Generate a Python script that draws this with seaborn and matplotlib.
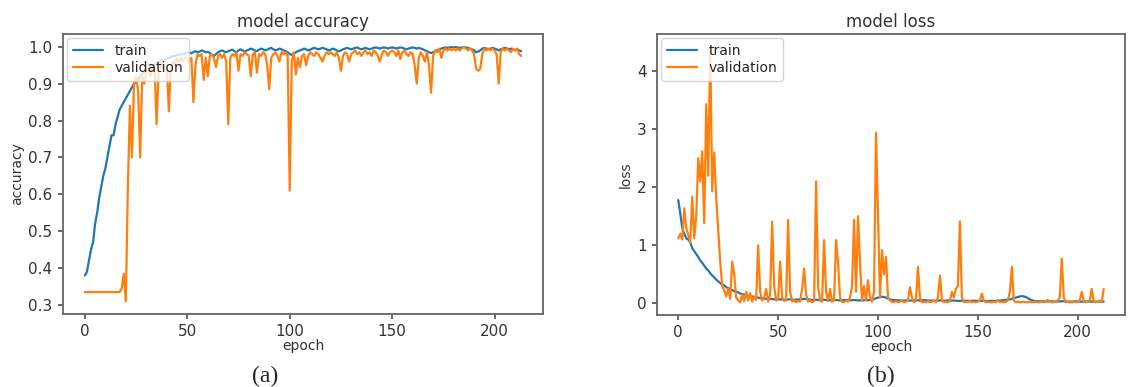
import numpy as np
import pandas as pd
import seaborn as sns
import matplotlib.pyplot as plt

# values (214 epochs)
acc_train = [
    0.38, 0.39, 0.42, 0.45, 0.47, 0.52, 0.55, 0.59, 0.62, 0.65,
    0.67, 0.70, 0.73, 0.76, 0.76, 0.79, 0.81, 0.83, 0.84, 0.85,
    0.86, 0.87, 0.88, 0.89, 0.90, 0.905, 0.91, 0.92, 0.925, 0.93,
    0.935, 0.94, 0.945, 0.95, 0.95, 0.955, 0.96, 0.96, 0.965, 0.965,
    0.97, 0.97, 0.972, 0.975, 0.975, 0.978, 0.978, 0.98, 0.98, 0.982,
    0.983, 0.985, 0.982, 0.986, 0.988, 0.985, 0.987, 0.99, 0.988, 0.985,
    0.986, 0.983, 0.978, 0.975, 0.98, 0.985, 0.988, 0.99, 0.987, 0.985,
    0.988, 0.99, 0.992, 0.988, 0.985, 0.99, 0.993, 0.99, 0.987, 0.99,
    0.992, 0.995, 0.993, 0.99, 0.988, 0.992, 0.995, 0.993, 0.99, 0.992,
    0.995, 0.997, 0.993, 0.99, 0.992, 0.995, 0.993, 0.99, 0.988, 0.985,
    0.98, 0.978, 0.982, 0.985, 0.988, 0.99, 0.992, 0.995, 0.993, 0.99,
    0.992, 0.995, 0.997, 0.995, 0.993, 0.995, 0.997, 0.995, 0.993, 0.99,
    0.992, 0.995, 0.993, 0.99, 0.988, 0.99, 0.993, 0.995, 0.997, 0.995,
    0.993, 0.995, 0.997, 0.998, 0.995, 0.993, 0.995, 0.997, 0.995, 0.993,
    0.995, 0.997, 0.998, 0.997, 0.995, 0.997, 0.998, 0.997, 0.995, 0.997,
    0.998, 0.997, 0.995, 0.997, 0.998, 0.997, 0.995, 0.993, 0.995, 0.997,
    0.998, 0.997, 0.995, 0.997, 0.995, 0.993, 0.99, 0.988, 0.985, 0.983,
    0.985, 0.988, 0.99, 0.993, 0.995, 0.997, 0.998, 0.997, 0.998, 0.999,
    0.998, 0.999, 0.998, 0.997, 0.998, 0.999, 0.998, 0.997, 0.995, 0.993,
    0.99, 0.985, 0.987, 0.99, 0.995, 0.997, 0.995, 0.993, 0.995, 0.997,
    0.995, 0.993, 0.99, 0.993, 0.995, 0.997, 0.995, 0.993, 0.995, 0.993,
    0.99, 0.993, 0.99, 0.988,
]

acc_val = [
    0.335, 0.335, 0.335, 0.335, 0.335, 0.335, 0.335, 0.335, 0.335, 0.335,
    0.335, 0.335, 0.335, 0.335, 0.335, 0.335, 0.335, 0.335, 0.345, 0.385,
    0.31, 0.62, 0.84, 0.70, 0.90, 0.92, 0.88, 0.70, 0.92, 0.90,
    0.93, 0.95, 0.92, 0.94, 0.95, 0.79, 0.93, 0.95, 0.96, 0.94,
    0.95, 0.825, 0.95, 0.96, 0.95, 0.97, 0.96, 0.97, 0.96, 0.97,
    0.97, 0.96, 0.97, 0.85, 0.95, 0.98, 0.975, 0.98, 0.91, 0.97,
    0.92, 0.975, 0.98, 0.97, 0.945, 0.975, 0.98, 0.97, 0.98, 0.96,
    0.79, 0.97, 0.98, 0.975, 0.985, 0.935, 0.98, 0.975, 0.985, 0.98,
    0.975, 0.92, 0.98, 0.985, 0.93, 0.98, 0.975, 0.985, 0.98, 0.95,
    0.885, 0.97, 0.98, 0.985, 0.975, 0.96, 0.985, 0.98, 0.985, 0.975,
    0.61, 0.96, 0.985, 0.925, 0.97, 0.945, 0.975, 0.98, 0.95, 0.975,
    0.985, 0.98, 0.975, 0.985, 0.98, 0.97, 0.96, 0.975, 0.985, 0.98,
    0.985, 0.98, 0.975, 0.985, 0.97, 0.935, 0.975, 0.985, 0.98, 0.96,
    0.98, 0.985, 0.99, 0.98, 0.985, 0.975, 0.985, 0.99, 0.98, 0.985,
    0.975, 0.99, 0.985, 0.975, 0.96, 0.98, 0.99, 0.985, 0.975, 0.985,
    0.99, 0.985, 0.975, 0.99, 0.967, 0.985, 0.99, 0.98, 0.975, 0.985,
    0.98, 0.95, 0.90, 0.97, 0.985, 0.975, 0.96, 0.985, 0.95, 0.875,
    0.975, 0.99, 0.985, 0.995, 0.97, 0.99, 0.995, 0.99, 0.995, 0.99,
    0.995, 0.99, 0.995, 0.99, 0.995, 1.0, 0.995, 0.99, 0.995, 0.99,
    0.98, 0.94, 0.935, 0.94, 0.98, 0.995, 0.99, 0.995, 0.99, 0.995,
    0.99, 0.98, 0.90, 0.985, 0.995, 0.99, 0.995, 0.99, 0.985, 0.995,
    0.99, 0.995, 0.98, 0.975,
]

loss_train = [
    1.78, 1.55, 1.30, 1.20, 1.12, 1.10, 1.05, 0.95, 0.90, 0.85,
    0.80, 0.74, 0.70, 0.65, 0.60, 0.57, 0.52, 0.48, 0.45, 0.41,
    0.38, 0.35, 0.32, 0.31, 0.28, 0.26, 0.25, 0.23, 0.21, 0.20,
    0.19, 0.17, 0.16, 0.15, 0.14, 0.13, 0.12, 0.12, 0.11, 0.10,
    0.10, 0.09, 0.09, 0.08, 0.08, 0.08, 0.075, 0.075, 0.07, 0.07,
    0.07, 0.068, 0.07, 0.065, 0.065, 0.068, 0.07, 0.065, 0.06, 0.065,
    0.068, 0.07, 0.075, 0.08, 0.075, 0.07, 0.065, 0.06, 0.062, 0.065,
    0.06, 0.058, 0.06, 0.062, 0.06, 0.058, 0.055, 0.058, 0.06, 0.058,
    0.055, 0.053, 0.055, 0.058, 0.06, 0.055, 0.053, 0.055, 0.058, 0.055,
    0.052, 0.05, 0.053, 0.055, 0.058, 0.055, 0.06, 0.065, 0.075, 0.09,
    0.10, 0.11, 0.115, 0.11, 0.10, 0.085, 0.07, 0.06, 0.058, 0.055,
    0.053, 0.05, 0.048, 0.05, 0.052, 0.05, 0.048, 0.05, 0.052, 0.055,
    0.053, 0.05, 0.052, 0.055, 0.053, 0.05, 0.048, 0.05, 0.048, 0.045,
    0.047, 0.05, 0.048, 0.045, 0.047, 0.05, 0.052, 0.05, 0.048, 0.047,
    0.045, 0.043, 0.045, 0.047, 0.045, 0.043, 0.042, 0.045, 0.047, 0.045,
    0.043, 0.042, 0.045, 0.043, 0.042, 0.04, 0.042, 0.045, 0.043, 0.042,
    0.045, 0.048, 0.05, 0.055, 0.06, 0.065, 0.07, 0.08, 0.09, 0.10,
    0.11, 0.12, 0.125, 0.12, 0.11, 0.09, 0.07, 0.055, 0.045, 0.04,
    0.038, 0.035, 0.037, 0.035, 0.033, 0.035, 0.037, 0.035, 0.033, 0.032,
    0.033, 0.035, 0.037, 0.035, 0.033, 0.032, 0.03, 0.032, 0.033, 0.035,
    0.033, 0.032, 0.03, 0.032, 0.033, 0.03, 0.032, 0.033, 0.03, 0.032,
    0.03, 0.032, 0.03, 0.033,
]

loss_val = [
    1.12, 1.20, 1.10, 1.64, 1.30, 1.18, 1.05, 1.84, 1.12, 1.50,
    2.50, 2.10, 2.62, 1.38, 3.43, 2.20, 4.42, 1.93, 2.60, 1.81,
    1.25, 0.72, 0.30, 0.22, 0.12, 0.25, 0.08, 0.72, 0.50, 0.10,
    0.05, 0.02, 0.15, 0.04, 0.20, 0.05, 0.18, 0.03, 0.12, 0.06,
    1.00, 0.20, 0.05, 0.10, 0.25, 0.03, 0.15, 1.41, 0.30, 0.05,
    0.08, 0.72, 0.10, 0.04, 0.06, 1.44, 0.20, 0.03, 0.05, 0.02,
    0.04, 0.03, 0.25, 0.60, 0.15, 0.03, 0.05, 0.02, 0.04, 2.10,
    0.30, 0.05, 0.03, 1.09, 0.20, 0.04, 0.25, 0.03, 0.05, 1.09,
    0.70, 0.10, 0.03, 0.02, 0.05, 0.03, 0.10, 0.30, 1.44, 0.20,
    1.50, 0.70, 0.05, 0.30, 0.05, 0.40, 0.10, 0.03, 0.20, 2.94,
    1.50, 0.10, 0.92, 0.50, 0.80, 0.10, 0.05, 0.03, 0.02, 0.04,
    0.02, 0.03, 0.05, 0.02, 0.03, 0.06, 0.28, 0.10, 0.02, 0.05,
    0.63, 0.10, 0.02, 0.03, 0.02, 0.04, 0.02, 0.03, 0.05, 0.02,
    0.10, 0.48, 0.05, 0.02, 0.03, 0.02, 0.04, 0.20, 0.10, 0.25,
    0.30, 1.41, 0.10, 0.02, 0.03, 0.02, 0.04, 0.02, 0.03, 0.02,
    0.03, 0.05, 0.17, 0.04, 0.02, 0.03, 0.02, 0.02, 0.03, 0.02,
    0.06, 0.02, 0.03, 0.02, 0.03, 0.05, 0.20, 0.63, 0.05, 0.02,
    0.03, 0.02, 0.02, 0.03, 0.02, 0.02, 0.03, 0.02, 0.02, 0.03,
    0.02, 0.02, 0.03, 0.02, 0.04, 0.06, 0.03, 0.02, 0.02, 0.03,
    0.05, 0.10, 0.77, 0.10, 0.02, 0.03, 0.02, 0.02, 0.03, 0.02,
    0.03, 0.05, 0.20, 0.04, 0.02, 0.03, 0.05, 0.25, 0.03, 0.02,
    0.03, 0.05, 0.03, 0.25,
]

epochs = np.arange(len(acc_train))

BLUE = "#1f77b4"
ORANGE = "#ff7f0e"
TXT = "#333333"


def panel(ax, train, val, title, ylabel):
    sns.lineplot(x=epochs, y=train, ax=ax, color=BLUE, lw=1.6, label="train")
    sns.lineplot(x=epochs, y=val, ax=ax, color=ORANGE, lw=1.6, label="validation")
    ax.set_title(title, fontsize=12, color=TXT, pad=5)
    ax.set_xlabel("epoch", fontsize=10, color=TXT, labelpad=0)
    ax.set_ylabel(ylabel, fontsize=10, color=TXT, labelpad=3)
    ax.set_xticks([0, 50, 100, 150, 200])
    ax.tick_params(labelsize=11, colors="#555555", labelcolor=TXT,
                   length=3.5, pad=4)
    for s in ax.spines.values():
        s.set_color("#666666")
        s.set_linewidth(1.3)
    ax.legend(loc="upper left", fontsize=10, frameon=True,
              borderaxespad=0.3, handlelength=2.2, labelspacing=0.25)


def main():
    sns.set_theme(style="ticks")
    plt.rcParams["font.family"] = ["DejaVu Sans"]

    fig = plt.figure(figsize=(11.42, 3.87), dpi=100)
    ax1 = fig.add_axes([0.0552, 0.1886, 0.4203, 0.7235])
    ax2 = fig.add_axes([0.5753, 0.186, 0.4098, 0.7261])

    panel(ax1, acc_train, acc_val, "model accuracy", "accuracy")
    panel(ax2, loss_train, loss_val, "model loss", "loss")

    fig.text(0.232, 0.0, "(a)", fontsize=17, family="Liberation Serif",
             ha="center", va="bottom")
    fig.text(0.771, 0.0, "(b)", fontsize=17, family="Liberation Serif",
             ha="center", va="bottom")

    fig.savefig("out.png", dpi=100)


if __name__ == "__main__":
    main()
